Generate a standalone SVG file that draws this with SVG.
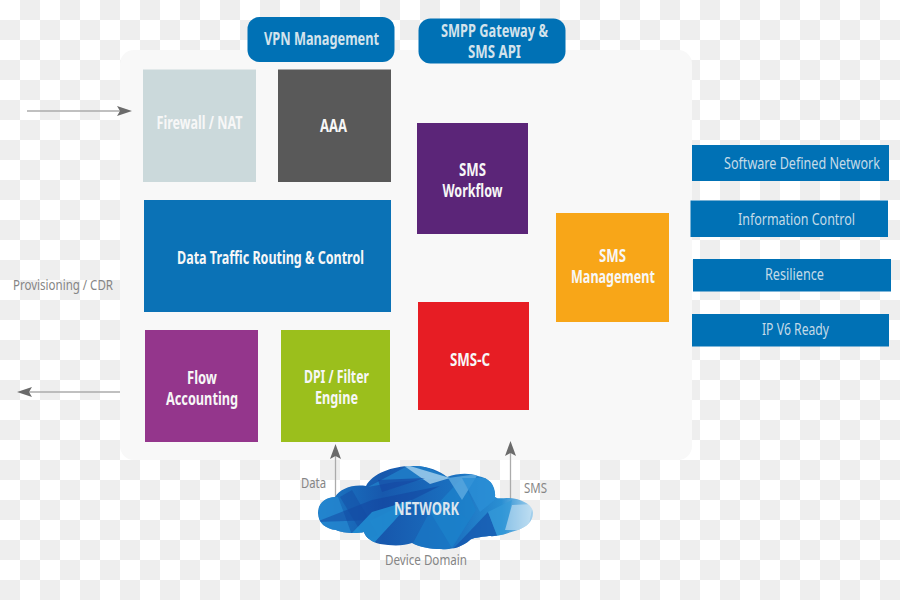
<svg xmlns="http://www.w3.org/2000/svg" width="900" height="600" viewBox="0 0 900 600">
  <style>
    text { font-family: "Noto Sans", "Open Sans", "Liberation Sans", sans-serif; }
    .head { font-size: 17px; font-weight: 700; fill: #d3e3ec; text-anchor: middle; }
    .box { font-size: 17px; font-weight: 700; fill: #f7f7f7; text-anchor: middle; }
    .side { font-size: 17px; fill: #c4dbe8; text-anchor: middle; }
    .note { font-size: 15px; fill: #858585; text-anchor: middle; }
    .blue { fill: #0071b5; }
    .wire { stroke: #ababab; stroke-width: 1.3; fill: none; }
    .tip { fill: #6b6b6b; }
  </style>
  <defs>
    <pattern id="checks" width="40" height="40" patternUnits="userSpaceOnUse">
      <rect width="40" height="40" fill="#ffffff"/>
      <rect x="20" y="0" width="20" height="20" fill="#eeeeee"/>
      <rect x="0" y="20" width="20" height="20" fill="#eeeeee"/>
    </pattern>
    <linearGradient id="cloudFill" x1="318" y1="0" x2="534" y2="0" gradientUnits="userSpaceOnUse">
      <stop offset="0" stop-color="#1b7bc6"/>
      <stop offset="0.3" stop-color="#1758ad"/>
      <stop offset="0.62" stop-color="#1a6fbf"/>
      <stop offset="0.85" stop-color="#2a8fd3"/>
      <stop offset="1" stop-color="#a9d3ee"/>
    </linearGradient>
    <clipPath id="cloudShape">
      <path d="M318 513 C318 503 326 497 335 497 C340 489 352 484 366 486 C372 473 395 465 415 466 C428 466 440 471 447 477 C458 473 470 473 478 476 C490 478 496 486 495 497 C497 499 500 498 510 498 C522 499 533 505 533 513 C533 522 526 527 518 530 C508 533 498 537 489 536 C480 537 472 538 470 540 C462 547 452 550 441 549 C430 549 420 547 412 543 C404 546 392 546 380 544 C372 542 366 538 364 532 C355 534 342 533 336 530 C326 529 318 523 318 513 Z"/>
    </clipPath>
  </defs>

  <rect id="backdrop" width="900" height="600" fill="url(#checks)"/>
  <rect id="panel" x="120" y="50" width="572" height="410" rx="14" fill="#f8f8f8"/>

  <g id="connectors">
    <line class="wire" x1="27" y1="111" x2="122" y2="111"/>
    <path class="tip" d="M132 111 L117 106 L120 111 L117 116 Z"/>
    <line class="wire" x1="120" y1="392" x2="28" y2="392"/>
    <path class="tip" d="M17 392 L32 387 L29 392 L32 397 Z"/>
    <line class="wire" x1="335.500" y1="498" x2="335.500" y2="454"/>
    <path class="tip" d="M335.500 444 L330 459 L335.500 456 L341 459 Z"/>
    <line class="wire" x1="510.500" y1="499" x2="510.500" y2="452"/>
    <path class="tip" d="M510.500 441 L505 456 L510.500 453 L516 456 Z"/>
  </g>

  <g id="vpn-management">
    <rect class="blue" x="247.500" y="17" width="147" height="45" rx="12"/>
    <text class="head" x="321.500" y="44.500" textLength="115" lengthAdjust="spacingAndGlyphs">VPN Management</text>
  </g>
  <g id="smpp-gateway">
    <rect class="blue" x="418.500" y="18.500" width="147" height="45" rx="12"/>
    <text class="head" x="494.500" y="36.500" textLength="107" lengthAdjust="spacingAndGlyphs">SMPP Gateway &amp;</text>
    <text class="head" x="494.500" y="57.500" textLength="53" lengthAdjust="spacingAndGlyphs">SMS API</text>
  </g>
  <g id="firewall-nat">
    <rect x="143" y="69.500" width="113" height="112.500" fill="#cbd9db"/>
    <text class="box" x="199.500" y="128.500" textLength="86" lengthAdjust="spacingAndGlyphs">Firewall / NAT</text>
  </g>
  <g id="aaa">
    <rect x="278" y="69.500" width="113" height="112.500" fill="#595959"/>
    <text class="box" x="333.500" y="131.500" textLength="27" lengthAdjust="spacingAndGlyphs">AAA</text>
  </g>
  <g id="data-traffic">
    <rect x="144" y="200" width="247" height="112" fill="#0b72b6"/>
    <text class="box" x="270.500" y="263.500" textLength="187" lengthAdjust="spacingAndGlyphs">Data Traffic Routing &amp; Control</text>
  </g>
  <g id="flow-accounting">
    <rect x="145" y="330" width="113" height="112" fill="#94368c"/>
    <text class="box" x="202" y="383.500" textLength="30" lengthAdjust="spacingAndGlyphs">Flow</text>
    <text class="box" x="202" y="404.500" textLength="72" lengthAdjust="spacingAndGlyphs">Accounting</text>
  </g>
  <g id="dpi-filter">
    <rect x="281" y="330" width="109" height="112" fill="#9bbf1c"/>
    <text class="box" x="336.500" y="383" textLength="65" lengthAdjust="spacingAndGlyphs">DPI / Filter</text>
    <text class="box" x="336.500" y="404" textLength="43" lengthAdjust="spacingAndGlyphs">Engine</text>
  </g>
  <g id="sms-workflow">
    <rect x="417" y="123" width="111" height="111" fill="#5b2578"/>
    <text class="box" x="472.500" y="175.500" textLength="27" lengthAdjust="spacingAndGlyphs">SMS</text>
    <text class="box" x="472.500" y="196.500" textLength="60" lengthAdjust="spacingAndGlyphs">Workflow</text>
  </g>
  <g id="sms-c">
    <rect x="418" y="302" width="111" height="108" fill="#e71d24"/>
    <text class="box" x="470" y="365.500" textLength="40" lengthAdjust="spacingAndGlyphs">SMS-C</text>
  </g>
  <g id="sms-management">
    <rect x="556" y="213" width="113" height="109" fill="#f8a618"/>
    <text class="box" x="612.500" y="261.500" textLength="27" lengthAdjust="spacingAndGlyphs">SMS</text>
    <text class="box" x="613" y="282.500" textLength="84" lengthAdjust="spacingAndGlyphs">Management</text>
  </g>

  <g id="software-defined-network">
    <rect class="blue" x="692" y="145" width="197" height="36"/>
    <text class="side" transform="translate(802 169) scale(0.8 1)" textLength="195" lengthAdjust="spacingAndGlyphs">Software Defined Network</text>
  </g>
  <g id="information-control">
    <rect class="blue" x="690.500" y="200.500" width="197.500" height="36.500"/>
    <text class="side" x="796.500" y="225" textLength="117" lengthAdjust="spacingAndGlyphs">Information Control</text>
  </g>
  <g id="resilience">
    <rect class="blue" x="693" y="259" width="198" height="32.500"/>
    <text class="side" x="794.500" y="280" textLength="59" lengthAdjust="spacingAndGlyphs">Resilience</text>
  </g>
  <g id="ipv6-ready">
    <rect class="blue" x="692" y="314" width="197" height="32.500"/>
    <text class="side" x="795.500" y="335" textLength="67" lengthAdjust="spacingAndGlyphs">IP V6 Ready</text>
  </g>

  <g id="network">
    <g clip-path="url(#cloudShape)">
      <rect x="310" y="460" width="230" height="95" fill="url(#cloudFill)"/>
      <!-- long diagonal shards over the base fill -->
      <polygon points="318,498 338,497 352,535 320,530" fill="#2688d0" opacity="0.75"/>
      <polygon points="316,522 372,500 440,486 372,520" fill="#123f9c" opacity="0.45"/>
      <polygon points="340,497 366,540 378,535 352,490" fill="#134ca4" opacity="0.5"/>
      <polygon points="352,533 372,512 412,500 395,520 372,545" fill="#2292d6" opacity="0.8"/>
      <polygon points="368,487 415,462 450,478 395,482" fill="#1f7cc6" opacity="0.9"/>
      <polygon points="400,463 450,478 430,484" fill="#a6d2ee" opacity="0.8"/>
      <polygon points="378,480 425,478 382,492" fill="#1648a4" opacity="0.7"/>
      <polygon points="412,545 436,500 470,520 445,555" fill="#1a79c6" opacity="0.7"/>
      <polygon points="430,512 462,478 476,510 452,548" fill="#1d83cc" opacity="0.7"/>
      <polygon points="448,478 478,474 462,500" fill="#62ade2" opacity="0.75"/>
      <polygon points="462,478 490,478 497,498 480,512" fill="#2a8fd6" opacity="0.8"/>
      <polygon points="452,550 488,512 498,538" fill="#1556ae" opacity="0.75"/>
      <polygon points="488,512 512,500 505,534 498,538" fill="#349ad8" opacity="0.7"/>
      <polygon points="505,530 512,505 533,504 528,530" fill="#d5e9f6" opacity="0.55"/>
    </g>
    <text x="426.500" y="514.500" font-size="17" font-weight="700" fill="#dbe5ee" text-anchor="middle" textLength="65" lengthAdjust="spacingAndGlyphs">NETWORK</text>
  </g>

  <g id="labels">
    <text class="note" x="63" y="289.500" textLength="100" lengthAdjust="spacingAndGlyphs">Provisioning / CDR</text>
    <text class="note" x="313.500" y="487.500" textLength="25" lengthAdjust="spacingAndGlyphs">Data</text>
    <text class="note" x="535.500" y="492.500" textLength="23" lengthAdjust="spacingAndGlyphs">SMS</text>
    <text class="note" x="426" y="564.500" textLength="82" lengthAdjust="spacingAndGlyphs">Device Domain</text>
  </g>
</svg>
